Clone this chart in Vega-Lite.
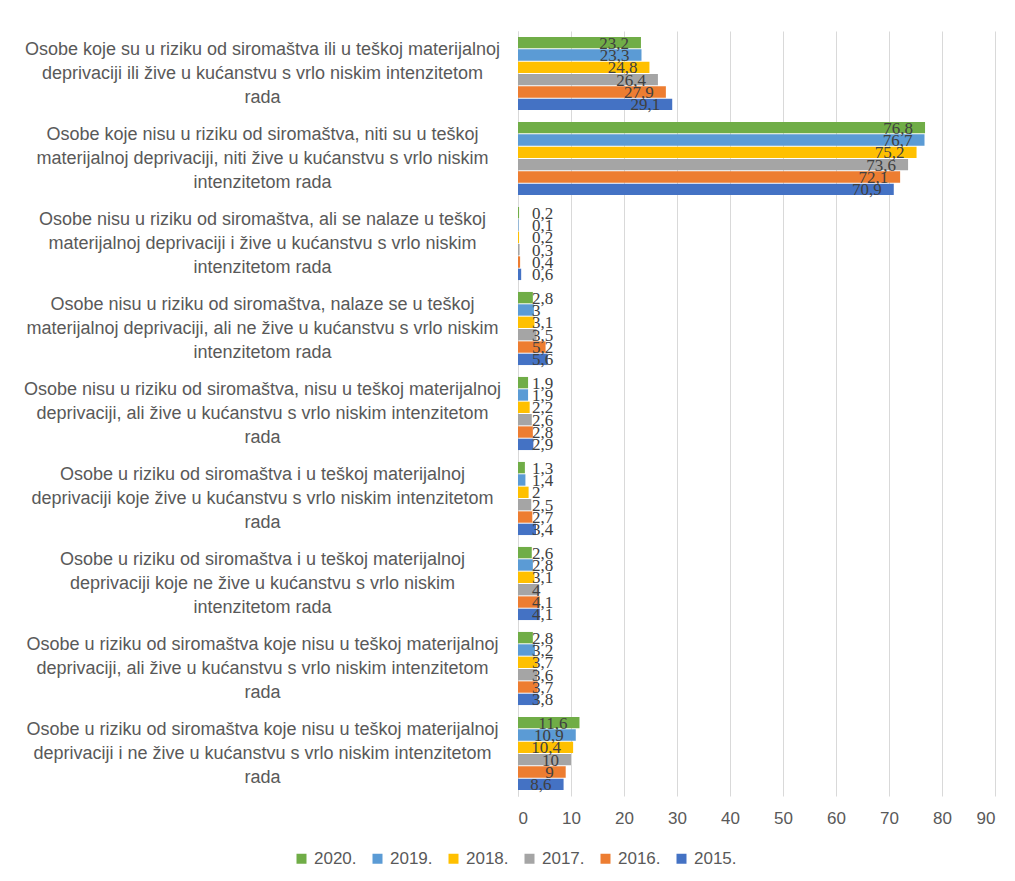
{
  "$schema": "https://vega.github.io/schema/vega-lite/v6.json",
  "width": 477,
  "height": 765,
  "autosize": "none",
  "padding": {"left": 518, "top": 31, "right": 20, "bottom": 85},
  "background": "white",
  "config": {
    "locale": {"number": {"decimal": ",", "thousands": ".", "grouping": [3], "currency": ["", " €"]}},
    "view": {"stroke": null},
    "font": "Liberation Sans"
  },
  "data": {
    "values": [
      {"cat": "Osobe koje su u riziku od siromaštva ili u teškoj materijalnoj|deprivaciji ili žive u kućanstvu s vrlo niskim intenzitetom|rada", "2020": 23.2, "2019": 23.3, "2018": 24.8, "2017": 26.4, "2016": 27.9, "2015": 29.1},
      {"cat": "Osobe koje nisu u riziku od siromaštva, niti su u teškoj|materijalnoj deprivaciji, niti žive u kućanstvu s vrlo niskim|intenzitetom rada", "2020": 76.8, "2019": 76.7, "2018": 75.2, "2017": 73.6, "2016": 72.1, "2015": 70.9},
      {"cat": "Osobe nisu u riziku od siromaštva, ali se nalaze u teškoj|materijalnoj deprivaciji i žive u kućanstvu s vrlo niskim|intenzitetom rada", "2020": 0.2, "2019": 0.1, "2018": 0.2, "2017": 0.3, "2016": 0.4, "2015": 0.6},
      {"cat": "Osobe nisu u riziku od siromaštva, nalaze se u teškoj|materijalnoj deprivaciji, ali ne žive u kućanstvu s vrlo niskim|intenzitetom rada", "2020": 2.8, "2019": 3, "2018": 3.1, "2017": 3.5, "2016": 5.2, "2015": 5.6},
      {"cat": "Osobe nisu u riziku od siromaštva, nisu u teškoj materijalnoj|deprivaciji, ali žive u kućanstvu s vrlo niskim intenzitetom|rada", "2020": 1.9, "2019": 1.9, "2018": 2.2, "2017": 2.6, "2016": 2.8, "2015": 2.9},
      {"cat": "Osobe u riziku od siromaštva i u teškoj materijalnoj|deprivaciji koje žive u kućanstvu s vrlo niskim intenzitetom|rada", "2020": 1.3, "2019": 1.4, "2018": 2, "2017": 2.5, "2016": 2.7, "2015": 3.4},
      {"cat": "Osobe u riziku od siromaštva i u teškoj materijalnoj|deprivaciji koje ne žive u kućanstvu s vrlo niskim|intenzitetom rada", "2020": 2.6, "2019": 2.8, "2018": 3.1, "2017": 4, "2016": 4.1, "2015": 4.1},
      {"cat": "Osobe u riziku od siromaštva koje nisu u teškoj materijalnoj|deprivaciji, ali žive u kućanstvu s vrlo niskim intenzitetom|rada", "2020": 2.8, "2019": 3.2, "2018": 3.7, "2017": 3.6, "2016": 3.7, "2015": 3.8},
      {"cat": "Osobe u riziku od siromaštva koje nisu u teškoj materijalnoj|deprivaciji i ne žive u kućanstvu s vrlo niskim intenzitetom|rada", "2020": 11.6, "2019": 10.9, "2018": 10.4, "2017": 10, "2016": 9, "2015": 8.6}
    ]
  },
  "transform": [{"fold": ["2020", "2019", "2018", "2017", "2016", "2015"], "as": ["year", "value"]}],
  "encoding": {
    "y": {
      "field": "cat", "type": "nominal", "sort": null,
      "scale": {"paddingInner": 0.14, "paddingOuter": 0.07},
      "axis": {
        "title": null, "ticks": false, "tickSize": 0, "domainColor": "#D9D9D9",
        "labelAlign": "center", "labelBaseline": "middle", "labelPadding": 256, "labelOffset": -24,
        "labelExpr": "split(datum.label, '|')", "labelLineHeight": 24,
        "labelFontSize": 18, "labelColor": "#595959", "labelLimit": 0, "grid": false
      }
    },
    "yOffset": {"field": "year", "type": "nominal", "sort": ["2020", "2019", "2018", "2017", "2016", "2015"], "scale": {"paddingInner": 0.08}},
    "x": {
      "field": "value", "type": "quantitative",
      "scale": {"domain": [0, 90], "nice": false},
      "axis": {
        "title": null, "values": [0, 10, 20, 30, 40, 50, 60, 70, 80, 90], "grid": true, "gridColor": "#D9D9D9",
        "domain": false, "ticks": false, "labelColor": "#595959", "labelFontSize": 17, "labelPadding": 14, "format": "d"
      }
    }
  },
  "layer": [
    {
      "mark": {"type": "bar"},
      "encoding": {
        "color": {
          "field": "year", "type": "nominal",
          "scale": {"domain": ["2020", "2019", "2018", "2017", "2016", "2015"], "range": ["#70AD47", "#5B9BD5", "#FFC000", "#A5A5A5", "#ED7D31", "#4472C4"]},
          "legend": {
            "orient": "none", "legendX": -225, "legendY": 819, "direction": "horizontal", "title": null,
            "symbolType": "square", "symbolSize": 100, "symbolStrokeWidth": 0, "labelFontSize": 17,
            "labelColor": "#595959", "columnPadding": 12, "labelExpr": "datum.label + '.'"
          }
        }
      }
    },
    {
      "transform": [{"filter": "datum.value >= 8"}],
      "mark": {"type": "text", "align": "right", "baseline": "middle", "dx": -12, "dy": 1, "font": "Liberation Serif", "fontSize": 17, "color": "#404040"},
      "encoding": {"text": {"field": "value", "type": "quantitative", "format": ".1~f"}}
    },
    {
      "transform": [{"filter": "datum.value < 8"}],
      "mark": {"type": "text", "align": "left", "baseline": "middle", "dx": 14, "dy": 1, "font": "Liberation Serif", "fontSize": 17, "color": "#404040"},
      "encoding": {
        "x": {"datum": 0, "type": "quantitative"},
        "text": {"field": "value", "type": "quantitative", "format": ".1~f"}
      }
    }
  ]
}
